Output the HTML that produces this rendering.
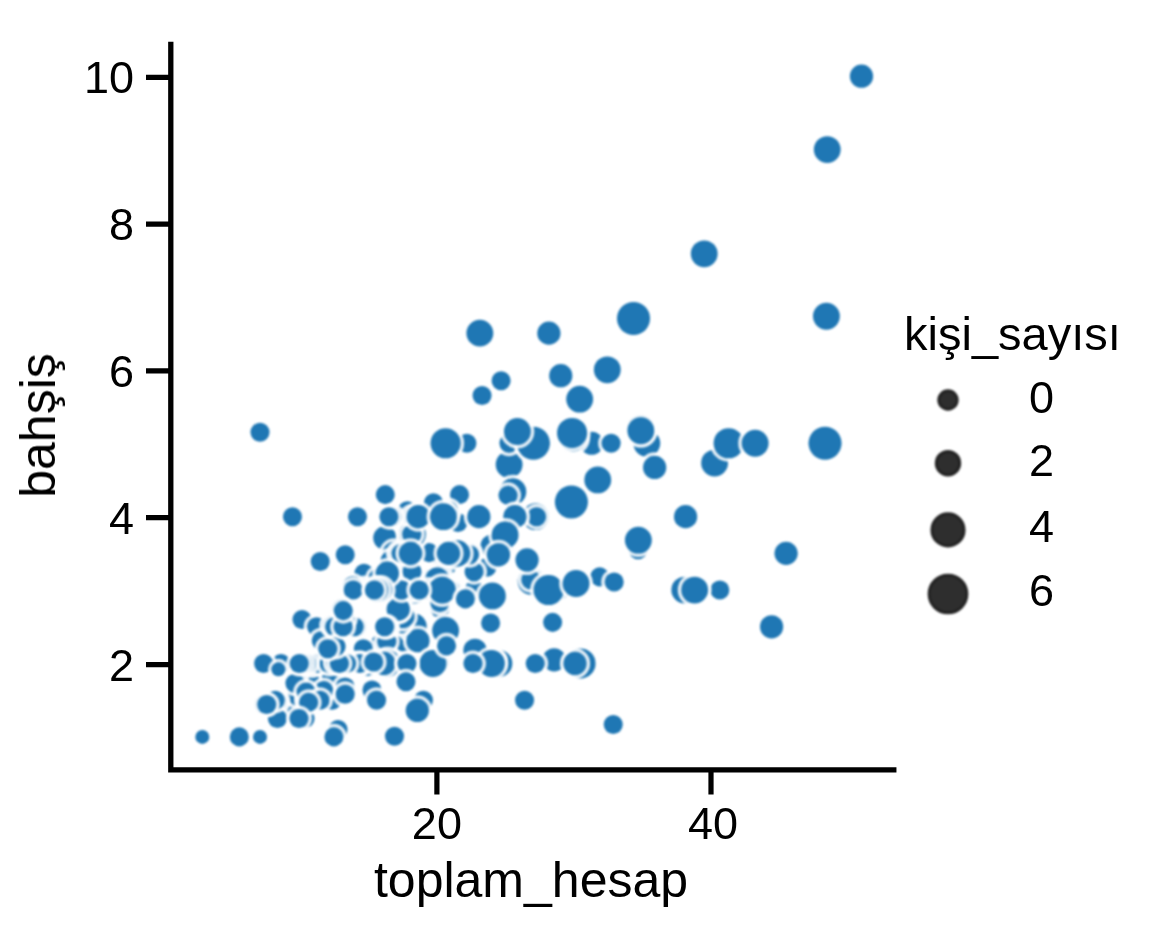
<!DOCTYPE html>
<html><head><meta charset="utf-8"><title>toplam_hesap / bahşiş scatter</title>
<style>html,body{margin:0;padding:0;background:#fff;}body{width:1152px;height:928px;overflow:hidden;font-family:"Liberation Sans",sans-serif;}svg{display:block;}</style>
</head><body>
<svg width="1152" height="928" viewBox="0 0 1152 928" role="img" aria-label="Scatter plot of bahşiş versus toplam_hesap, point size by kişi_sayısı">
<rect width="1152" height="928" fill="#ffffff"/>
<defs><filter id="bd" filterUnits="userSpaceOnUse" x="-20" y="-20" width="1192" height="968" color-interpolation-filters="sRGB"><feGaussianBlur stdDeviation="0.8"/></filter><filter id="bl" filterUnits="userSpaceOnUse" x="-20" y="-20" width="1192" height="968" color-interpolation-filters="sRGB"><feGaussianBlur stdDeviation="0.55"/></filter><filter id="bt" filterUnits="userSpaceOnUse" x="-20" y="-20" width="1192" height="968" color-interpolation-filters="sRGB"><feGaussianBlur stdDeviation="0.6"/></filter><filter id="bm" filterUnits="userSpaceOnUse" x="-20" y="-20" width="1192" height="968" color-interpolation-filters="sRGB"><feGaussianBlur stdDeviation="0.8"/></filter></defs>
<g id="all">
<g filter="url(#bd)">
<circle cx="394.51" cy="736.16" r="10.87" fill="none" stroke="#fff" stroke-opacity="0.88" stroke-width="4.30"/><circle cx="394.51" cy="736.16" r="9.52" fill="#1f77b4"/>
<circle cx="302.68" cy="688.44" r="12.96" fill="none" stroke="#fff" stroke-opacity="0.88" stroke-width="4.30"/><circle cx="302.68" cy="688.44" r="11.61" fill="#1f77b4"/>
<circle cx="450.02" cy="553.37" r="12.96" fill="none" stroke="#fff" stroke-opacity="0.88" stroke-width="4.30"/><circle cx="450.02" cy="553.37" r="11.61" fill="#1f77b4"/>
<circle cx="486.88" cy="567.31" r="10.87" fill="none" stroke="#fff" stroke-opacity="0.88" stroke-width="4.30"/><circle cx="486.88" cy="567.31" r="9.52" fill="#1f77b4"/>
<circle cx="499.45" cy="545.29" r="14.77" fill="none" stroke="#fff" stroke-opacity="0.88" stroke-width="4.30"/><circle cx="499.45" cy="545.29" r="13.42" fill="#1f77b4"/>
<circle cx="509.11" cy="464.54" r="14.77" fill="none" stroke="#fff" stroke-opacity="0.88" stroke-width="4.30"/><circle cx="509.11" cy="464.54" r="13.42" fill="#1f77b4"/>
<circle cx="281.01" cy="663.48" r="10.87" fill="none" stroke="#fff" stroke-opacity="0.88" stroke-width="4.30"/><circle cx="281.01" cy="663.48" r="9.52" fill="#1f77b4"/>
<circle cx="531.07" cy="581.26" r="14.77" fill="none" stroke="#fff" stroke-opacity="0.88" stroke-width="4.30"/><circle cx="531.07" cy="581.26" r="13.42" fill="#1f77b4"/>
<circle cx="367.58" cy="666.42" r="10.87" fill="none" stroke="#fff" stroke-opacity="0.88" stroke-width="4.30"/><circle cx="367.58" cy="666.42" r="9.52" fill="#1f77b4"/>
<circle cx="363.99" cy="573.19" r="10.87" fill="none" stroke="#fff" stroke-opacity="0.88" stroke-width="4.30"/><circle cx="363.99" cy="573.19" r="9.52" fill="#1f77b4"/>
<circle cx="301.72" cy="684.77" r="10.87" fill="none" stroke="#fff" stroke-opacity="0.88" stroke-width="4.30"/><circle cx="301.72" cy="684.77" r="9.52" fill="#1f77b4"/>
<circle cx="646.78" cy="443.25" r="14.77" fill="none" stroke="#fff" stroke-opacity="0.88" stroke-width="4.30"/><circle cx="646.78" cy="443.25" r="13.42" fill="#1f77b4"/>
<circle cx="372.83" cy="695.05" r="10.87" fill="none" stroke="#fff" stroke-opacity="0.88" stroke-width="4.30"/><circle cx="372.83" cy="695.05" r="9.52" fill="#1f77b4"/>
<circle cx="414.39" cy="590.07" r="14.77" fill="none" stroke="#fff" stroke-opacity="0.88" stroke-width="4.30"/><circle cx="414.39" cy="590.07" r="13.42" fill="#1f77b4"/>
<circle cx="364.68" cy="588.60" r="10.87" fill="none" stroke="#fff" stroke-opacity="0.88" stroke-width="4.30"/><circle cx="364.68" cy="588.60" r="9.52" fill="#1f77b4"/>
<circle cx="457.89" cy="522.53" r="10.87" fill="none" stroke="#fff" stroke-opacity="0.88" stroke-width="4.30"/><circle cx="457.89" cy="522.53" r="9.52" fill="#1f77b4"/>
<circle cx="302.55" cy="687.71" r="12.96" fill="none" stroke="#fff" stroke-opacity="0.88" stroke-width="4.30"/><circle cx="302.55" cy="687.71" r="11.61" fill="#1f77b4"/>
<circle cx="384.84" cy="537.95" r="12.96" fill="none" stroke="#fff" stroke-opacity="0.88" stroke-width="4.30"/><circle cx="384.84" cy="537.95" r="11.61" fill="#1f77b4"/>
<circle cx="394.23" cy="553.37" r="12.96" fill="none" stroke="#fff" stroke-opacity="0.88" stroke-width="4.30"/><circle cx="394.23" cy="553.37" r="11.61" fill="#1f77b4"/>
<circle cx="445.04" cy="564.38" r="12.96" fill="none" stroke="#fff" stroke-opacity="0.88" stroke-width="4.30"/><circle cx="445.04" cy="564.38" r="11.61" fill="#1f77b4"/>
<circle cx="407.35" cy="510.79" r="10.87" fill="none" stroke="#fff" stroke-opacity="0.88" stroke-width="4.30"/><circle cx="407.35" cy="510.79" r="9.52" fill="#1f77b4"/>
<circle cx="440.07" cy="608.42" r="10.87" fill="none" stroke="#fff" stroke-opacity="0.88" stroke-width="4.30"/><circle cx="440.07" cy="608.42" r="9.52" fill="#1f77b4"/>
<circle cx="377.66" cy="646.60" r="10.87" fill="none" stroke="#fff" stroke-opacity="0.88" stroke-width="4.30"/><circle cx="377.66" cy="646.60" r="9.52" fill="#1f77b4"/>
<circle cx="704.22" cy="253.85" r="14.77" fill="none" stroke="#fff" stroke-opacity="0.88" stroke-width="4.30"/><circle cx="704.22" cy="253.85" r="13.42" fill="#1f77b4"/>
<circle cx="433.58" cy="576.86" r="10.87" fill="none" stroke="#fff" stroke-opacity="0.88" stroke-width="4.30"/><circle cx="433.58" cy="576.86" r="9.52" fill="#1f77b4"/>
<circle cx="405.83" cy="638.52" r="14.77" fill="none" stroke="#fff" stroke-opacity="0.88" stroke-width="4.30"/><circle cx="405.83" cy="638.52" r="13.42" fill="#1f77b4"/>
<circle cx="344.52" cy="663.48" r="10.87" fill="none" stroke="#fff" stroke-opacity="0.88" stroke-width="4.30"/><circle cx="344.52" cy="663.48" r="9.52" fill="#1f77b4"/>
<circle cx="335.13" cy="663.48" r="10.87" fill="none" stroke="#fff" stroke-opacity="0.88" stroke-width="4.30"/><circle cx="335.13" cy="663.48" r="9.52" fill="#1f77b4"/>
<circle cx="459.54" cy="494.64" r="10.87" fill="none" stroke="#fff" stroke-opacity="0.88" stroke-width="4.30"/><circle cx="459.54" cy="494.64" r="9.52" fill="#1f77b4"/>
<circle cx="431.24" cy="590.07" r="10.87" fill="none" stroke="#fff" stroke-opacity="0.88" stroke-width="4.30"/><circle cx="431.24" cy="590.07" r="9.52" fill="#1f77b4"/>
<circle cx="291.78" cy="703.86" r="10.87" fill="none" stroke="#fff" stroke-opacity="0.88" stroke-width="4.30"/><circle cx="291.78" cy="703.86" r="9.52" fill="#1f77b4"/>
<circle cx="413.29" cy="626.77" r="14.77" fill="none" stroke="#fff" stroke-opacity="0.88" stroke-width="4.30"/><circle cx="413.29" cy="626.77" r="13.42" fill="#1f77b4"/>
<circle cx="367.86" cy="590.07" r="10.87" fill="none" stroke="#fff" stroke-opacity="0.88" stroke-width="4.30"/><circle cx="367.86" cy="590.07" r="9.52" fill="#1f77b4"/>
<circle cx="445.60" cy="630.45" r="14.77" fill="none" stroke="#fff" stroke-opacity="0.88" stroke-width="4.30"/><circle cx="445.60" cy="630.45" r="13.42" fill="#1f77b4"/>
<circle cx="405.42" cy="570.25" r="10.87" fill="none" stroke="#fff" stroke-opacity="0.88" stroke-width="4.30"/><circle cx="405.42" cy="570.25" r="9.52" fill="#1f77b4"/>
<circle cx="492.13" cy="546.02" r="12.96" fill="none" stroke="#fff" stroke-opacity="0.88" stroke-width="4.30"/><circle cx="492.13" cy="546.02" r="11.61" fill="#1f77b4"/>
<circle cx="385.12" cy="663.48" r="12.96" fill="none" stroke="#fff" stroke-opacity="0.88" stroke-width="4.30"/><circle cx="385.12" cy="663.48" r="11.61" fill="#1f77b4"/>
<circle cx="393.68" cy="584.93" r="12.96" fill="none" stroke="#fff" stroke-opacity="0.88" stroke-width="4.30"/><circle cx="393.68" cy="584.93" r="11.61" fill="#1f77b4"/>
<circle cx="417.98" cy="640.72" r="12.96" fill="none" stroke="#fff" stroke-opacity="0.88" stroke-width="4.30"/><circle cx="417.98" cy="640.72" r="11.61" fill="#1f77b4"/>
<circle cx="591.69" cy="443.25" r="12.96" fill="none" stroke="#fff" stroke-opacity="0.88" stroke-width="4.30"/><circle cx="591.69" cy="443.25" r="11.61" fill="#1f77b4"/>
<circle cx="381.39" cy="645.86" r="12.96" fill="none" stroke="#fff" stroke-opacity="0.88" stroke-width="4.30"/><circle cx="381.39" cy="645.86" r="11.61" fill="#1f77b4"/>
<circle cx="401.00" cy="623.84" r="10.87" fill="none" stroke="#fff" stroke-opacity="0.88" stroke-width="4.30"/><circle cx="401.00" cy="623.84" r="9.52" fill="#1f77b4"/>
<circle cx="352.39" cy="585.67" r="10.87" fill="none" stroke="#fff" stroke-opacity="0.88" stroke-width="4.30"/><circle cx="352.39" cy="585.67" r="9.52" fill="#1f77b4"/>
<circle cx="293.57" cy="713.40" r="10.87" fill="none" stroke="#fff" stroke-opacity="0.88" stroke-width="4.30"/><circle cx="293.57" cy="713.40" r="9.52" fill="#1f77b4"/>
<circle cx="579.67" cy="399.20" r="14.77" fill="none" stroke="#fff" stroke-opacity="0.88" stroke-width="4.30"/><circle cx="579.67" cy="399.20" r="13.42" fill="#1f77b4"/>
<circle cx="412.46" cy="590.07" r="10.87" fill="none" stroke="#fff" stroke-opacity="0.88" stroke-width="4.30"/><circle cx="412.46" cy="590.07" r="9.52" fill="#1f77b4"/>
<circle cx="466.86" cy="443.25" r="10.87" fill="none" stroke="#fff" stroke-opacity="0.88" stroke-width="4.30"/><circle cx="466.86" cy="443.25" r="9.52" fill="#1f77b4"/>
<circle cx="607.29" cy="369.84" r="14.77" fill="none" stroke="#fff" stroke-opacity="0.88" stroke-width="4.30"/><circle cx="607.29" cy="369.84" r="13.42" fill="#1f77b4"/>
<circle cx="554.13" cy="659.81" r="12.96" fill="none" stroke="#fff" stroke-opacity="0.88" stroke-width="4.30"/><circle cx="554.13" cy="659.81" r="11.61" fill="#1f77b4"/>
<circle cx="409.01" cy="590.07" r="10.87" fill="none" stroke="#fff" stroke-opacity="0.88" stroke-width="4.30"/><circle cx="409.01" cy="590.07" r="9.52" fill="#1f77b4"/>
<circle cx="333.06" cy="626.77" r="10.87" fill="none" stroke="#fff" stroke-opacity="0.88" stroke-width="4.30"/><circle cx="333.06" cy="626.77" r="9.52" fill="#1f77b4"/>
<circle cx="301.99" cy="619.43" r="10.87" fill="none" stroke="#fff" stroke-opacity="0.88" stroke-width="4.30"/><circle cx="301.99" cy="619.43" r="9.52" fill="#1f77b4"/>
<circle cx="640.57" cy="428.57" r="14.77" fill="none" stroke="#fff" stroke-opacity="0.88" stroke-width="4.30"/><circle cx="640.57" cy="428.57" r="13.42" fill="#1f77b4"/>
<circle cx="297.16" cy="695.78" r="10.87" fill="none" stroke="#fff" stroke-opacity="0.88" stroke-width="4.30"/><circle cx="297.16" cy="695.78" r="9.52" fill="#1f77b4"/>
<circle cx="512.84" cy="491.70" r="14.77" fill="none" stroke="#fff" stroke-opacity="0.88" stroke-width="4.30"/><circle cx="512.84" cy="491.70" r="13.42" fill="#1f77b4"/>
<circle cx="429.03" cy="552.63" r="10.87" fill="none" stroke="#fff" stroke-opacity="0.88" stroke-width="4.30"/><circle cx="429.03" cy="552.63" r="9.52" fill="#1f77b4"/>
<circle cx="684.75" cy="590.07" r="14.77" fill="none" stroke="#fff" stroke-opacity="0.88" stroke-width="4.30"/><circle cx="684.75" cy="590.07" r="13.42" fill="#1f77b4"/>
<circle cx="524.58" cy="700.19" r="10.87" fill="none" stroke="#fff" stroke-opacity="0.88" stroke-width="4.30"/><circle cx="524.58" cy="700.19" r="9.52" fill="#1f77b4"/>
<circle cx="315.11" cy="681.10" r="10.87" fill="none" stroke="#fff" stroke-opacity="0.88" stroke-width="4.30"/><circle cx="315.11" cy="681.10" r="9.52" fill="#1f77b4"/>
<circle cx="826.42" cy="316.25" r="14.77" fill="none" stroke="#fff" stroke-opacity="0.88" stroke-width="4.30"/><circle cx="826.42" cy="316.25" r="13.42" fill="#1f77b4"/>
<circle cx="440.07" cy="574.65" r="10.87" fill="none" stroke="#fff" stroke-opacity="0.88" stroke-width="4.30"/><circle cx="440.07" cy="574.65" r="9.52" fill="#1f77b4"/>
<circle cx="350.60" cy="663.48" r="10.87" fill="none" stroke="#fff" stroke-opacity="0.88" stroke-width="4.30"/><circle cx="350.60" cy="663.48" r="9.52" fill="#1f77b4"/>
<circle cx="312.07" cy="664.95" r="10.87" fill="none" stroke="#fff" stroke-opacity="0.88" stroke-width="4.30"/><circle cx="312.07" cy="664.95" r="9.52" fill="#1f77b4"/>
<circle cx="412.46" cy="534.28" r="14.77" fill="none" stroke="#fff" stroke-opacity="0.88" stroke-width="4.30"/><circle cx="412.46" cy="534.28" r="13.42" fill="#1f77b4"/>
<circle cx="402.79" cy="616.50" r="12.96" fill="none" stroke="#fff" stroke-opacity="0.88" stroke-width="4.30"/><circle cx="402.79" cy="616.50" r="11.61" fill="#1f77b4"/>
<circle cx="437.17" cy="579.06" r="12.96" fill="none" stroke="#fff" stroke-opacity="0.88" stroke-width="4.30"/><circle cx="437.17" cy="579.06" r="11.61" fill="#1f77b4"/>
<circle cx="387.05" cy="628.98" r="10.87" fill="none" stroke="#fff" stroke-opacity="0.88" stroke-width="4.30"/><circle cx="387.05" cy="628.98" r="9.52" fill="#1f77b4"/>
<circle cx="202.30" cy="736.89" r="8.35" fill="none" stroke="#fff" stroke-opacity="0.88" stroke-width="4.30"/><circle cx="202.30" cy="736.89" r="7.00" fill="#1f77b4"/>
<circle cx="439.25" cy="662.75" r="10.87" fill="none" stroke="#fff" stroke-opacity="0.88" stroke-width="4.30"/><circle cx="439.25" cy="662.75" r="9.52" fill="#1f77b4"/>
<circle cx="367.17" cy="656.87" r="10.87" fill="none" stroke="#fff" stroke-opacity="0.88" stroke-width="4.30"/><circle cx="367.17" cy="656.87" r="9.52" fill="#1f77b4"/>
<circle cx="325.88" cy="665.68" r="10.87" fill="none" stroke="#fff" stroke-opacity="0.88" stroke-width="4.30"/><circle cx="325.88" cy="665.68" r="9.52" fill="#1f77b4"/>
<circle cx="395.61" cy="590.07" r="12.96" fill="none" stroke="#fff" stroke-opacity="0.88" stroke-width="4.30"/><circle cx="395.61" cy="590.07" r="11.61" fill="#1f77b4"/>
<circle cx="530.79" cy="579.79" r="10.87" fill="none" stroke="#fff" stroke-opacity="0.88" stroke-width="4.30"/><circle cx="530.79" cy="579.79" r="9.52" fill="#1f77b4"/>
<circle cx="508.98" cy="443.25" r="10.87" fill="none" stroke="#fff" stroke-opacity="0.88" stroke-width="4.30"/><circle cx="508.98" cy="443.25" r="9.52" fill="#1f77b4"/>
<circle cx="363.30" cy="648.80" r="10.87" fill="none" stroke="#fff" stroke-opacity="0.88" stroke-width="4.30"/><circle cx="363.30" cy="648.80" r="9.52" fill="#1f77b4"/>
<circle cx="305.03" cy="718.54" r="10.87" fill="none" stroke="#fff" stroke-opacity="0.88" stroke-width="4.30"/><circle cx="305.03" cy="718.54" r="9.52" fill="#1f77b4"/>
<circle cx="407.35" cy="584.20" r="10.87" fill="none" stroke="#fff" stroke-opacity="0.88" stroke-width="4.30"/><circle cx="407.35" cy="584.20" r="9.52" fill="#1f77b4"/>
<circle cx="535.49" cy="516.66" r="14.77" fill="none" stroke="#fff" stroke-opacity="0.88" stroke-width="4.30"/><circle cx="535.49" cy="516.66" r="13.42" fill="#1f77b4"/>
<circle cx="474.18" cy="590.07" r="10.87" fill="none" stroke="#fff" stroke-opacity="0.88" stroke-width="4.30"/><circle cx="474.18" cy="590.07" r="9.52" fill="#1f77b4"/>
<circle cx="398.65" cy="611.36" r="10.87" fill="none" stroke="#fff" stroke-opacity="0.88" stroke-width="4.30"/><circle cx="398.65" cy="611.36" r="9.52" fill="#1f77b4"/>
<circle cx="428.34" cy="590.07" r="10.87" fill="none" stroke="#fff" stroke-opacity="0.88" stroke-width="4.30"/><circle cx="428.34" cy="590.07" r="9.52" fill="#1f77b4"/>
<circle cx="389.95" cy="560.71" r="10.87" fill="none" stroke="#fff" stroke-opacity="0.88" stroke-width="4.30"/><circle cx="389.95" cy="560.71" r="9.52" fill="#1f77b4"/>
<circle cx="298.96" cy="675.96" r="8.35" fill="none" stroke="#fff" stroke-opacity="0.88" stroke-width="4.30"/><circle cx="298.96" cy="675.96" r="7.00" fill="#1f77b4"/>
<circle cx="611.15" cy="443.25" r="10.87" fill="none" stroke="#fff" stroke-opacity="0.88" stroke-width="4.30"/><circle cx="611.15" cy="443.25" r="9.52" fill="#1f77b4"/>
<circle cx="380.56" cy="661.28" r="10.87" fill="none" stroke="#fff" stroke-opacity="0.88" stroke-width="4.30"/><circle cx="380.56" cy="661.28" r="9.52" fill="#1f77b4"/>
<circle cx="640.84" cy="430.77" r="14.77" fill="none" stroke="#fff" stroke-opacity="0.88" stroke-width="4.30"/><circle cx="640.84" cy="430.77" r="13.42" fill="#1f77b4"/>
<circle cx="339.83" cy="663.48" r="10.87" fill="none" stroke="#fff" stroke-opacity="0.88" stroke-width="4.30"/><circle cx="339.83" cy="663.48" r="9.52" fill="#1f77b4"/>
<circle cx="412.32" cy="516.66" r="10.87" fill="none" stroke="#fff" stroke-opacity="0.88" stroke-width="4.30"/><circle cx="412.32" cy="516.66" r="9.52" fill="#1f77b4"/>
<circle cx="501.11" cy="380.85" r="10.87" fill="none" stroke="#fff" stroke-opacity="0.88" stroke-width="4.30"/><circle cx="501.11" cy="380.85" r="9.52" fill="#1f77b4"/>
<circle cx="452.09" cy="590.07" r="10.87" fill="none" stroke="#fff" stroke-opacity="0.88" stroke-width="4.30"/><circle cx="452.09" cy="590.07" r="9.52" fill="#1f77b4"/>
<circle cx="559.93" cy="590.07" r="10.87" fill="none" stroke="#fff" stroke-opacity="0.88" stroke-width="4.30"/><circle cx="559.93" cy="590.07" r="9.52" fill="#1f77b4"/>
<circle cx="470.45" cy="553.37" r="10.87" fill="none" stroke="#fff" stroke-opacity="0.88" stroke-width="4.30"/><circle cx="470.45" cy="553.37" r="9.52" fill="#1f77b4"/>
<circle cx="239.31" cy="736.89" r="10.87" fill="none" stroke="#fff" stroke-opacity="0.88" stroke-width="4.30"/><circle cx="239.31" cy="736.89" r="9.52" fill="#1f77b4"/>
<circle cx="385.26" cy="494.64" r="10.87" fill="none" stroke="#fff" stroke-opacity="0.88" stroke-width="4.30"/><circle cx="385.26" cy="494.64" r="9.52" fill="#1f77b4"/>
<circle cx="474.04" cy="571.72" r="10.87" fill="none" stroke="#fff" stroke-opacity="0.88" stroke-width="4.30"/><circle cx="474.04" cy="571.72" r="9.52" fill="#1f77b4"/>
<circle cx="714.58" cy="463.07" r="14.77" fill="none" stroke="#fff" stroke-opacity="0.88" stroke-width="4.30"/><circle cx="714.58" cy="463.07" r="13.42" fill="#1f77b4"/>
<circle cx="536.59" cy="516.66" r="10.87" fill="none" stroke="#fff" stroke-opacity="0.88" stroke-width="4.30"/><circle cx="536.59" cy="516.66" r="9.52" fill="#1f77b4"/>
<circle cx="326.02" cy="700.19" r="10.87" fill="none" stroke="#fff" stroke-opacity="0.88" stroke-width="4.30"/><circle cx="326.02" cy="700.19" r="9.52" fill="#1f77b4"/>
<circle cx="450.02" cy="590.07" r="10.87" fill="none" stroke="#fff" stroke-opacity="0.88" stroke-width="4.30"/><circle cx="450.02" cy="590.07" r="9.52" fill="#1f77b4"/>
<circle cx="331.96" cy="700.19" r="10.87" fill="none" stroke="#fff" stroke-opacity="0.88" stroke-width="4.30"/><circle cx="331.96" cy="700.19" r="9.52" fill="#1f77b4"/>
<circle cx="316.63" cy="626.77" r="10.87" fill="none" stroke="#fff" stroke-opacity="0.88" stroke-width="4.30"/><circle cx="316.63" cy="626.77" r="9.52" fill="#1f77b4"/>
<circle cx="372.28" cy="590.07" r="10.87" fill="none" stroke="#fff" stroke-opacity="0.88" stroke-width="4.30"/><circle cx="372.28" cy="590.07" r="9.52" fill="#1f77b4"/>
<circle cx="771.60" cy="626.77" r="12.96" fill="none" stroke="#fff" stroke-opacity="0.88" stroke-width="4.30"/><circle cx="771.60" cy="626.77" r="11.61" fill="#1f77b4"/>
<circle cx="469.48" cy="554.83" r="10.87" fill="none" stroke="#fff" stroke-opacity="0.88" stroke-width="4.30"/><circle cx="469.48" cy="554.83" r="9.52" fill="#1f77b4"/>
<circle cx="448.77" cy="510.79" r="10.87" fill="none" stroke="#fff" stroke-opacity="0.88" stroke-width="4.30"/><circle cx="448.77" cy="510.79" r="9.52" fill="#1f77b4"/>
<circle cx="372.00" cy="689.91" r="10.87" fill="none" stroke="#fff" stroke-opacity="0.88" stroke-width="4.30"/><circle cx="372.00" cy="689.91" r="9.52" fill="#1f77b4"/>
<circle cx="442.84" cy="512.26" r="10.87" fill="none" stroke="#fff" stroke-opacity="0.88" stroke-width="4.30"/><circle cx="442.84" cy="512.26" r="9.52" fill="#1f77b4"/>
<circle cx="508.01" cy="495.37" r="10.87" fill="none" stroke="#fff" stroke-opacity="0.88" stroke-width="4.30"/><circle cx="508.01" cy="495.37" r="9.52" fill="#1f77b4"/>
<circle cx="411.77" cy="534.28" r="10.87" fill="none" stroke="#fff" stroke-opacity="0.88" stroke-width="4.30"/><circle cx="411.77" cy="534.28" r="9.52" fill="#1f77b4"/>
<circle cx="357.50" cy="516.66" r="10.87" fill="none" stroke="#fff" stroke-opacity="0.88" stroke-width="4.30"/><circle cx="357.50" cy="516.66" r="9.52" fill="#1f77b4"/>
<circle cx="353.22" cy="590.07" r="10.87" fill="none" stroke="#fff" stroke-opacity="0.88" stroke-width="4.30"/><circle cx="353.22" cy="590.07" r="9.52" fill="#1f77b4"/>
<circle cx="260.02" cy="736.89" r="8.35" fill="none" stroke="#fff" stroke-opacity="0.88" stroke-width="4.30"/><circle cx="260.02" cy="736.89" r="7.00" fill="#1f77b4"/>
<circle cx="685.58" cy="516.66" r="12.96" fill="none" stroke="#fff" stroke-opacity="0.88" stroke-width="4.30"/><circle cx="685.58" cy="516.66" r="11.61" fill="#1f77b4"/>
<circle cx="490.61" cy="623.10" r="10.87" fill="none" stroke="#fff" stroke-opacity="0.88" stroke-width="4.30"/><circle cx="490.61" cy="623.10" r="9.52" fill="#1f77b4"/>
<circle cx="514.91" cy="516.66" r="12.96" fill="none" stroke="#fff" stroke-opacity="0.88" stroke-width="4.30"/><circle cx="514.91" cy="516.66" r="11.61" fill="#1f77b4"/>
<circle cx="398.93" cy="553.37" r="10.87" fill="none" stroke="#fff" stroke-opacity="0.88" stroke-width="4.30"/><circle cx="398.93" cy="553.37" r="9.52" fill="#1f77b4"/>
<circle cx="573.18" cy="438.11" r="14.77" fill="none" stroke="#fff" stroke-opacity="0.88" stroke-width="4.30"/><circle cx="573.18" cy="438.11" r="13.42" fill="#1f77b4"/>
<circle cx="306.96" cy="700.19" r="10.87" fill="none" stroke="#fff" stroke-opacity="0.88" stroke-width="4.30"/><circle cx="306.96" cy="700.19" r="9.52" fill="#1f77b4"/>
<circle cx="331.54" cy="678.16" r="10.87" fill="none" stroke="#fff" stroke-opacity="0.88" stroke-width="4.30"/><circle cx="331.54" cy="678.16" r="9.52" fill="#1f77b4"/>
<circle cx="492.41" cy="595.94" r="14.77" fill="none" stroke="#fff" stroke-opacity="0.88" stroke-width="4.30"/><circle cx="492.41" cy="595.94" r="13.42" fill="#1f77b4"/>
<circle cx="321.32" cy="640.72" r="10.87" fill="none" stroke="#fff" stroke-opacity="0.88" stroke-width="4.30"/><circle cx="321.32" cy="640.72" r="9.52" fill="#1f77b4"/>
<circle cx="345.21" cy="686.97" r="10.87" fill="none" stroke="#fff" stroke-opacity="0.88" stroke-width="4.30"/><circle cx="345.21" cy="686.97" r="9.52" fill="#1f77b4"/>
<circle cx="356.81" cy="626.77" r="10.87" fill="none" stroke="#fff" stroke-opacity="0.88" stroke-width="4.30"/><circle cx="356.81" cy="626.77" r="9.52" fill="#1f77b4"/>
<circle cx="380.15" cy="663.48" r="10.87" fill="none" stroke="#fff" stroke-opacity="0.88" stroke-width="4.30"/><circle cx="380.15" cy="663.48" r="9.52" fill="#1f77b4"/>
<circle cx="332.23" cy="625.31" r="10.87" fill="none" stroke="#fff" stroke-opacity="0.88" stroke-width="4.30"/><circle cx="332.23" cy="625.31" r="9.52" fill="#1f77b4"/>
<circle cx="571.39" cy="501.98" r="17.89" fill="none" stroke="#fff" stroke-opacity="0.88" stroke-width="4.30"/><circle cx="571.39" cy="501.98" r="16.54" fill="#1f77b4"/>
<circle cx="277.55" cy="701.65" r="10.87" fill="none" stroke="#fff" stroke-opacity="0.88" stroke-width="4.30"/><circle cx="277.55" cy="701.65" r="9.52" fill="#1f77b4"/>
<circle cx="360.40" cy="663.48" r="10.87" fill="none" stroke="#fff" stroke-opacity="0.88" stroke-width="4.30"/><circle cx="360.40" cy="663.48" r="9.52" fill="#1f77b4"/>
<circle cx="317.04" cy="663.48" r="10.87" fill="none" stroke="#fff" stroke-opacity="0.88" stroke-width="4.30"/><circle cx="317.04" cy="663.48" r="9.52" fill="#1f77b4"/>
<circle cx="475.01" cy="650.27" r="12.96" fill="none" stroke="#fff" stroke-opacity="0.88" stroke-width="4.30"/><circle cx="475.01" cy="650.27" r="11.61" fill="#1f77b4"/>
<circle cx="423.37" cy="700.19" r="10.87" fill="none" stroke="#fff" stroke-opacity="0.88" stroke-width="4.30"/><circle cx="423.37" cy="700.19" r="9.52" fill="#1f77b4"/>
<circle cx="439.80" cy="602.55" r="10.87" fill="none" stroke="#fff" stroke-opacity="0.88" stroke-width="4.30"/><circle cx="439.80" cy="602.55" r="9.52" fill="#1f77b4"/>
<circle cx="314.14" cy="700.19" r="10.87" fill="none" stroke="#fff" stroke-opacity="0.88" stroke-width="4.30"/><circle cx="314.14" cy="700.19" r="9.52" fill="#1f77b4"/>
<circle cx="329.20" cy="663.48" r="10.87" fill="none" stroke="#fff" stroke-opacity="0.88" stroke-width="4.30"/><circle cx="329.20" cy="663.48" r="9.52" fill="#1f77b4"/>
<circle cx="412.04" cy="571.72" r="10.87" fill="none" stroke="#fff" stroke-opacity="0.88" stroke-width="4.30"/><circle cx="412.04" cy="571.72" r="9.52" fill="#1f77b4"/>
<circle cx="277.42" cy="718.54" r="10.87" fill="none" stroke="#fff" stroke-opacity="0.88" stroke-width="4.30"/><circle cx="277.42" cy="718.54" r="9.52" fill="#1f77b4"/>
<circle cx="302.55" cy="663.48" r="10.87" fill="none" stroke="#fff" stroke-opacity="0.88" stroke-width="4.30"/><circle cx="302.55" cy="663.48" r="9.52" fill="#1f77b4"/>
<circle cx="355.29" cy="663.48" r="10.87" fill="none" stroke="#fff" stroke-opacity="0.88" stroke-width="4.30"/><circle cx="355.29" cy="663.48" r="9.52" fill="#1f77b4"/>
<circle cx="380.84" cy="663.48" r="10.87" fill="none" stroke="#fff" stroke-opacity="0.88" stroke-width="4.30"/><circle cx="380.84" cy="663.48" r="9.52" fill="#1f77b4"/>
<circle cx="341.62" cy="608.42" r="10.87" fill="none" stroke="#fff" stroke-opacity="0.88" stroke-width="4.30"/><circle cx="341.62" cy="608.42" r="9.52" fill="#1f77b4"/>
<circle cx="401.14" cy="553.37" r="10.87" fill="none" stroke="#fff" stroke-opacity="0.88" stroke-width="4.30"/><circle cx="401.14" cy="553.37" r="9.52" fill="#1f77b4"/>
<circle cx="633.52" cy="318.45" r="17.89" fill="none" stroke="#fff" stroke-opacity="0.88" stroke-width="4.30"/><circle cx="633.52" cy="318.45" r="16.54" fill="#1f77b4"/>
<circle cx="728.66" cy="443.25" r="16.40" fill="none" stroke="#fff" stroke-opacity="0.88" stroke-width="4.30"/><circle cx="728.66" cy="443.25" r="15.05" fill="#1f77b4"/>
<circle cx="533.42" cy="443.25" r="17.89" fill="none" stroke="#fff" stroke-opacity="0.88" stroke-width="4.30"/><circle cx="533.42" cy="443.25" r="16.54" fill="#1f77b4"/>
<circle cx="386.77" cy="641.46" r="10.87" fill="none" stroke="#fff" stroke-opacity="0.88" stroke-width="4.30"/><circle cx="386.77" cy="641.46" r="9.52" fill="#1f77b4"/>
<circle cx="275.21" cy="700.19" r="10.87" fill="none" stroke="#fff" stroke-opacity="0.88" stroke-width="4.30"/><circle cx="275.21" cy="700.19" r="9.52" fill="#1f77b4"/>
<circle cx="417.29" cy="710.46" r="12.96" fill="none" stroke="#fff" stroke-opacity="0.88" stroke-width="4.30"/><circle cx="417.29" cy="710.46" r="11.61" fill="#1f77b4"/>
<circle cx="323.81" cy="690.64" r="10.87" fill="none" stroke="#fff" stroke-opacity="0.88" stroke-width="4.30"/><circle cx="323.81" cy="690.64" r="9.52" fill="#1f77b4"/>
<circle cx="294.95" cy="683.30" r="10.87" fill="none" stroke="#fff" stroke-opacity="0.88" stroke-width="4.30"/><circle cx="294.95" cy="683.30" r="9.52" fill="#1f77b4"/>
<circle cx="263.61" cy="663.48" r="10.87" fill="none" stroke="#fff" stroke-opacity="0.88" stroke-width="4.30"/><circle cx="263.61" cy="663.48" r="9.52" fill="#1f77b4"/>
<circle cx="354.19" cy="626.77" r="10.87" fill="none" stroke="#fff" stroke-opacity="0.88" stroke-width="4.30"/><circle cx="354.19" cy="626.77" r="9.52" fill="#1f77b4"/>
<circle cx="341.21" cy="663.48" r="10.87" fill="none" stroke="#fff" stroke-opacity="0.88" stroke-width="4.30"/><circle cx="341.21" cy="663.48" r="9.52" fill="#1f77b4"/>
<circle cx="398.24" cy="609.16" r="12.96" fill="none" stroke="#fff" stroke-opacity="0.88" stroke-width="4.30"/><circle cx="398.24" cy="609.16" r="11.61" fill="#1f77b4"/>
<circle cx="498.90" cy="663.48" r="14.77" fill="none" stroke="#fff" stroke-opacity="0.88" stroke-width="4.30"/><circle cx="498.90" cy="663.48" r="13.42" fill="#1f77b4"/>
<circle cx="432.89" cy="663.48" r="14.77" fill="none" stroke="#fff" stroke-opacity="0.88" stroke-width="4.30"/><circle cx="432.89" cy="663.48" r="13.42" fill="#1f77b4"/>
<circle cx="572.08" cy="432.97" r="16.40" fill="none" stroke="#fff" stroke-opacity="0.88" stroke-width="4.30"/><circle cx="572.08" cy="432.97" r="15.05" fill="#1f77b4"/>
<circle cx="825.04" cy="443.25" r="17.89" fill="none" stroke="#fff" stroke-opacity="0.88" stroke-width="4.30"/><circle cx="825.04" cy="443.25" r="16.54" fill="#1f77b4"/>
<circle cx="505.11" cy="535.01" r="14.77" fill="none" stroke="#fff" stroke-opacity="0.88" stroke-width="4.30"/><circle cx="505.11" cy="535.01" r="13.42" fill="#1f77b4"/>
<circle cx="344.80" cy="618.70" r="10.87" fill="none" stroke="#fff" stroke-opacity="0.88" stroke-width="4.30"/><circle cx="344.80" cy="618.70" r="9.52" fill="#1f77b4"/>
<circle cx="387.60" cy="663.48" r="14.77" fill="none" stroke="#fff" stroke-opacity="0.88" stroke-width="4.30"/><circle cx="387.60" cy="663.48" r="13.42" fill="#1f77b4"/>
<circle cx="456.78" cy="553.37" r="14.77" fill="none" stroke="#fff" stroke-opacity="0.88" stroke-width="4.30"/><circle cx="456.78" cy="553.37" r="13.42" fill="#1f77b4"/>
<circle cx="334.72" cy="626.77" r="10.87" fill="none" stroke="#fff" stroke-opacity="0.88" stroke-width="4.30"/><circle cx="334.72" cy="626.77" r="9.52" fill="#1f77b4"/>
<circle cx="383.74" cy="663.48" r="12.96" fill="none" stroke="#fff" stroke-opacity="0.88" stroke-width="4.30"/><circle cx="383.74" cy="663.48" r="11.61" fill="#1f77b4"/>
<circle cx="350.60" cy="663.48" r="10.87" fill="none" stroke="#fff" stroke-opacity="0.88" stroke-width="4.30"/><circle cx="350.60" cy="663.48" r="9.52" fill="#1f77b4"/>
<circle cx="401.69" cy="590.07" r="10.87" fill="none" stroke="#fff" stroke-opacity="0.88" stroke-width="4.30"/><circle cx="401.69" cy="590.07" r="9.52" fill="#1f77b4"/>
<circle cx="498.48" cy="554.83" r="12.96" fill="none" stroke="#fff" stroke-opacity="0.88" stroke-width="4.30"/><circle cx="498.48" cy="554.83" r="11.61" fill="#1f77b4"/>
<circle cx="446.56" cy="645.86" r="10.87" fill="none" stroke="#fff" stroke-opacity="0.88" stroke-width="4.30"/><circle cx="446.56" cy="645.86" r="9.52" fill="#1f77b4"/>
<circle cx="597.76" cy="479.95" r="14.77" fill="none" stroke="#fff" stroke-opacity="0.88" stroke-width="4.30"/><circle cx="597.76" cy="479.95" r="13.42" fill="#1f77b4"/>
<circle cx="306.14" cy="692.11" r="10.87" fill="none" stroke="#fff" stroke-opacity="0.88" stroke-width="4.30"/><circle cx="306.14" cy="692.11" r="9.52" fill="#1f77b4"/>
<circle cx="306.69" cy="663.48" r="10.87" fill="none" stroke="#fff" stroke-opacity="0.88" stroke-width="4.30"/><circle cx="306.69" cy="663.48" r="9.52" fill="#1f77b4"/>
<circle cx="861.49" cy="76.20" r="12.96" fill="none" stroke="#fff" stroke-opacity="0.88" stroke-width="4.30"/><circle cx="861.49" cy="76.20" r="11.61" fill="#1f77b4"/>
<circle cx="378.21" cy="578.32" r="10.87" fill="none" stroke="#fff" stroke-opacity="0.88" stroke-width="4.30"/><circle cx="378.21" cy="578.32" r="9.52" fill="#1f77b4"/>
<circle cx="260.02" cy="432.24" r="10.87" fill="none" stroke="#fff" stroke-opacity="0.88" stroke-width="4.30"/><circle cx="260.02" cy="432.24" r="9.52" fill="#1f77b4"/>
<circle cx="599.69" cy="576.86" r="10.87" fill="none" stroke="#fff" stroke-opacity="0.88" stroke-width="4.30"/><circle cx="599.69" cy="576.86" r="9.52" fill="#1f77b4"/>
<circle cx="392.16" cy="516.66" r="10.87" fill="none" stroke="#fff" stroke-opacity="0.88" stroke-width="4.30"/><circle cx="392.16" cy="516.66" r="9.52" fill="#1f77b4"/>
<circle cx="614.19" cy="581.99" r="10.87" fill="none" stroke="#fff" stroke-opacity="0.88" stroke-width="4.30"/><circle cx="614.19" cy="581.99" r="9.52" fill="#1f77b4"/>
<circle cx="406.93" cy="663.48" r="10.87" fill="none" stroke="#fff" stroke-opacity="0.88" stroke-width="4.30"/><circle cx="406.93" cy="663.48" r="9.52" fill="#1f77b4"/>
<circle cx="359.85" cy="663.48" r="10.87" fill="none" stroke="#fff" stroke-opacity="0.88" stroke-width="4.30"/><circle cx="359.85" cy="663.48" r="9.52" fill="#1f77b4"/>
<circle cx="292.47" cy="516.66" r="10.87" fill="none" stroke="#fff" stroke-opacity="0.88" stroke-width="4.30"/><circle cx="292.47" cy="516.66" r="9.52" fill="#1f77b4"/>
<circle cx="638.08" cy="549.69" r="10.87" fill="none" stroke="#fff" stroke-opacity="0.88" stroke-width="4.30"/><circle cx="638.08" cy="549.69" r="9.52" fill="#1f77b4"/>
<circle cx="638.36" cy="540.15" r="14.77" fill="none" stroke="#fff" stroke-opacity="0.88" stroke-width="4.30"/><circle cx="638.36" cy="540.15" r="13.42" fill="#1f77b4"/>
<circle cx="482.05" cy="395.53" r="10.87" fill="none" stroke="#fff" stroke-opacity="0.88" stroke-width="4.30"/><circle cx="482.05" cy="395.53" r="9.52" fill="#1f77b4"/>
<circle cx="786.10" cy="553.37" r="12.96" fill="none" stroke="#fff" stroke-opacity="0.88" stroke-width="4.30"/><circle cx="786.10" cy="553.37" r="11.61" fill="#1f77b4"/>
<circle cx="479.84" cy="333.13" r="14.77" fill="none" stroke="#fff" stroke-opacity="0.88" stroke-width="4.30"/><circle cx="479.84" cy="333.13" r="13.42" fill="#1f77b4"/>
<circle cx="719.82" cy="590.07" r="10.87" fill="none" stroke="#fff" stroke-opacity="0.88" stroke-width="4.30"/><circle cx="719.82" cy="590.07" r="9.52" fill="#1f77b4"/>
<circle cx="445.60" cy="443.25" r="16.40" fill="none" stroke="#fff" stroke-opacity="0.88" stroke-width="4.30"/><circle cx="445.60" cy="443.25" r="15.05" fill="#1f77b4"/>
<circle cx="448.50" cy="553.37" r="12.96" fill="none" stroke="#fff" stroke-opacity="0.88" stroke-width="4.30"/><circle cx="448.50" cy="553.37" r="11.61" fill="#1f77b4"/>
<circle cx="580.50" cy="663.48" r="16.40" fill="none" stroke="#fff" stroke-opacity="0.88" stroke-width="4.30"/><circle cx="580.50" cy="663.48" r="15.05" fill="#1f77b4"/>
<circle cx="410.52" cy="553.37" r="12.96" fill="none" stroke="#fff" stroke-opacity="0.88" stroke-width="4.30"/><circle cx="410.52" cy="553.37" r="11.61" fill="#1f77b4"/>
<circle cx="478.87" cy="516.66" r="12.96" fill="none" stroke="#fff" stroke-opacity="0.88" stroke-width="4.30"/><circle cx="478.87" cy="516.66" r="11.61" fill="#1f77b4"/>
<circle cx="376.56" cy="700.19" r="10.87" fill="none" stroke="#fff" stroke-opacity="0.88" stroke-width="4.30"/><circle cx="376.56" cy="700.19" r="9.52" fill="#1f77b4"/>
<circle cx="433.45" cy="502.71" r="10.87" fill="none" stroke="#fff" stroke-opacity="0.88" stroke-width="4.30"/><circle cx="433.45" cy="502.71" r="9.52" fill="#1f77b4"/>
<circle cx="552.61" cy="622.37" r="10.87" fill="none" stroke="#fff" stroke-opacity="0.88" stroke-width="4.30"/><circle cx="552.61" cy="622.37" r="9.52" fill="#1f77b4"/>
<circle cx="373.66" cy="662.01" r="10.87" fill="none" stroke="#fff" stroke-opacity="0.88" stroke-width="4.30"/><circle cx="373.66" cy="662.01" r="9.52" fill="#1f77b4"/>
<circle cx="388.85" cy="516.66" r="10.87" fill="none" stroke="#fff" stroke-opacity="0.88" stroke-width="4.30"/><circle cx="388.85" cy="516.66" r="9.52" fill="#1f77b4"/>
<circle cx="264.30" cy="704.59" r="10.87" fill="none" stroke="#fff" stroke-opacity="0.88" stroke-width="4.30"/><circle cx="264.30" cy="704.59" r="9.52" fill="#1f77b4"/>
<circle cx="302.68" cy="663.48" r="10.87" fill="none" stroke="#fff" stroke-opacity="0.88" stroke-width="4.30"/><circle cx="302.68" cy="663.48" r="9.52" fill="#1f77b4"/>
<circle cx="755.17" cy="443.25" r="14.77" fill="none" stroke="#fff" stroke-opacity="0.88" stroke-width="4.30"/><circle cx="755.17" cy="443.25" r="13.42" fill="#1f77b4"/>
<circle cx="339.41" cy="663.48" r="10.87" fill="none" stroke="#fff" stroke-opacity="0.88" stroke-width="4.30"/><circle cx="339.41" cy="663.48" r="9.52" fill="#1f77b4"/>
<circle cx="346.46" cy="663.48" r="10.87" fill="none" stroke="#fff" stroke-opacity="0.88" stroke-width="4.30"/><circle cx="346.46" cy="663.48" r="9.52" fill="#1f77b4"/>
<circle cx="418.26" cy="516.66" r="12.96" fill="none" stroke="#fff" stroke-opacity="0.88" stroke-width="4.30"/><circle cx="418.26" cy="516.66" r="11.61" fill="#1f77b4"/>
<circle cx="335.82" cy="662.75" r="10.87" fill="none" stroke="#fff" stroke-opacity="0.88" stroke-width="4.30"/><circle cx="335.82" cy="662.75" r="9.52" fill="#1f77b4"/>
<circle cx="339.41" cy="663.48" r="10.87" fill="none" stroke="#fff" stroke-opacity="0.88" stroke-width="4.30"/><circle cx="339.41" cy="663.48" r="9.52" fill="#1f77b4"/>
<circle cx="386.36" cy="626.77" r="10.87" fill="none" stroke="#fff" stroke-opacity="0.88" stroke-width="4.30"/><circle cx="386.36" cy="626.77" r="9.52" fill="#1f77b4"/>
<circle cx="443.39" cy="516.66" r="14.77" fill="none" stroke="#fff" stroke-opacity="0.88" stroke-width="4.30"/><circle cx="443.39" cy="516.66" r="13.42" fill="#1f77b4"/>
<circle cx="387.33" cy="573.19" r="12.96" fill="none" stroke="#fff" stroke-opacity="0.88" stroke-width="4.30"/><circle cx="387.33" cy="573.19" r="11.61" fill="#1f77b4"/>
<circle cx="527.06" cy="559.97" r="12.96" fill="none" stroke="#fff" stroke-opacity="0.88" stroke-width="4.30"/><circle cx="527.06" cy="559.97" r="11.61" fill="#1f77b4"/>
<circle cx="694.69" cy="590.07" r="14.77" fill="none" stroke="#fff" stroke-opacity="0.88" stroke-width="4.30"/><circle cx="694.69" cy="590.07" r="13.42" fill="#1f77b4"/>
<circle cx="495.03" cy="661.28" r="10.87" fill="none" stroke="#fff" stroke-opacity="0.88" stroke-width="4.30"/><circle cx="495.03" cy="661.28" r="9.52" fill="#1f77b4"/>
<circle cx="336.10" cy="646.60" r="10.87" fill="none" stroke="#fff" stroke-opacity="0.88" stroke-width="4.30"/><circle cx="336.10" cy="646.60" r="9.52" fill="#1f77b4"/>
<circle cx="574.98" cy="663.48" r="12.96" fill="none" stroke="#fff" stroke-opacity="0.88" stroke-width="4.30"/><circle cx="574.98" cy="663.48" r="11.61" fill="#1f77b4"/>
<circle cx="517.40" cy="431.50" r="14.77" fill="none" stroke="#fff" stroke-opacity="0.88" stroke-width="4.30"/><circle cx="517.40" cy="431.50" r="13.42" fill="#1f77b4"/>
<circle cx="827.25" cy="149.61" r="14.77" fill="none" stroke="#fff" stroke-opacity="0.88" stroke-width="4.30"/><circle cx="827.25" cy="149.61" r="13.42" fill="#1f77b4"/>
<circle cx="343.14" cy="626.77" r="10.87" fill="none" stroke="#fff" stroke-opacity="0.88" stroke-width="4.30"/><circle cx="343.14" cy="626.77" r="9.52" fill="#1f77b4"/>
<circle cx="548.88" cy="333.13" r="12.96" fill="none" stroke="#fff" stroke-opacity="0.88" stroke-width="4.30"/><circle cx="548.88" cy="333.13" r="11.61" fill="#1f77b4"/>
<circle cx="338.03" cy="729.55" r="10.87" fill="none" stroke="#fff" stroke-opacity="0.88" stroke-width="4.30"/><circle cx="338.03" cy="729.55" r="9.52" fill="#1f77b4"/>
<circle cx="548.60" cy="590.07" r="16.40" fill="none" stroke="#fff" stroke-opacity="0.88" stroke-width="4.30"/><circle cx="548.60" cy="590.07" r="15.05" fill="#1f77b4"/>
<circle cx="319.94" cy="700.19" r="10.87" fill="none" stroke="#fff" stroke-opacity="0.88" stroke-width="4.30"/><circle cx="319.94" cy="700.19" r="9.52" fill="#1f77b4"/>
<circle cx="266.78" cy="704.59" r="10.87" fill="none" stroke="#fff" stroke-opacity="0.88" stroke-width="4.30"/><circle cx="266.78" cy="704.59" r="9.52" fill="#1f77b4"/>
<circle cx="576.08" cy="583.46" r="14.77" fill="none" stroke="#fff" stroke-opacity="0.88" stroke-width="4.30"/><circle cx="576.08" cy="583.46" r="13.42" fill="#1f77b4"/>
<circle cx="327.81" cy="648.80" r="10.87" fill="none" stroke="#fff" stroke-opacity="0.88" stroke-width="4.30"/><circle cx="327.81" cy="648.80" r="9.52" fill="#1f77b4"/>
<circle cx="345.21" cy="554.83" r="10.87" fill="none" stroke="#fff" stroke-opacity="0.88" stroke-width="4.30"/><circle cx="345.21" cy="554.83" r="9.52" fill="#1f77b4"/>
<circle cx="278.38" cy="669.35" r="8.35" fill="none" stroke="#fff" stroke-opacity="0.88" stroke-width="4.30"/><circle cx="278.38" cy="669.35" r="7.00" fill="#1f77b4"/>
<circle cx="380.56" cy="590.07" r="12.96" fill="none" stroke="#fff" stroke-opacity="0.88" stroke-width="4.30"/><circle cx="380.56" cy="590.07" r="11.61" fill="#1f77b4"/>
<circle cx="345.21" cy="694.31" r="10.87" fill="none" stroke="#fff" stroke-opacity="0.88" stroke-width="4.30"/><circle cx="345.21" cy="694.31" r="9.52" fill="#1f77b4"/>
<circle cx="384.57" cy="626.77" r="10.87" fill="none" stroke="#fff" stroke-opacity="0.88" stroke-width="4.30"/><circle cx="384.57" cy="626.77" r="9.52" fill="#1f77b4"/>
<circle cx="299.23" cy="663.48" r="10.87" fill="none" stroke="#fff" stroke-opacity="0.88" stroke-width="4.30"/><circle cx="299.23" cy="663.48" r="9.52" fill="#1f77b4"/>
<circle cx="442.28" cy="590.07" r="14.77" fill="none" stroke="#fff" stroke-opacity="0.88" stroke-width="4.30"/><circle cx="442.28" cy="590.07" r="13.42" fill="#1f77b4"/>
<circle cx="343.28" cy="610.62" r="10.87" fill="none" stroke="#fff" stroke-opacity="0.88" stroke-width="4.30"/><circle cx="343.28" cy="610.62" r="9.52" fill="#1f77b4"/>
<circle cx="465.34" cy="598.88" r="10.87" fill="none" stroke="#fff" stroke-opacity="0.88" stroke-width="4.30"/><circle cx="465.34" cy="598.88" r="9.52" fill="#1f77b4"/>
<circle cx="491.44" cy="663.48" r="14.77" fill="none" stroke="#fff" stroke-opacity="0.88" stroke-width="4.30"/><circle cx="491.44" cy="663.48" r="13.42" fill="#1f77b4"/>
<circle cx="376.56" cy="590.07" r="12.96" fill="none" stroke="#fff" stroke-opacity="0.88" stroke-width="4.30"/><circle cx="376.56" cy="590.07" r="11.61" fill="#1f77b4"/>
<circle cx="320.22" cy="561.44" r="10.87" fill="none" stroke="#fff" stroke-opacity="0.88" stroke-width="4.30"/><circle cx="320.22" cy="561.44" r="9.52" fill="#1f77b4"/>
<circle cx="308.62" cy="702.39" r="10.87" fill="none" stroke="#fff" stroke-opacity="0.88" stroke-width="4.30"/><circle cx="308.62" cy="702.39" r="9.52" fill="#1f77b4"/>
<circle cx="374.35" cy="590.07" r="10.87" fill="none" stroke="#fff" stroke-opacity="0.88" stroke-width="4.30"/><circle cx="374.35" cy="590.07" r="9.52" fill="#1f77b4"/>
<circle cx="298.96" cy="718.54" r="10.87" fill="none" stroke="#fff" stroke-opacity="0.88" stroke-width="4.30"/><circle cx="298.96" cy="718.54" r="9.52" fill="#1f77b4"/>
<circle cx="333.89" cy="736.89" r="10.87" fill="none" stroke="#fff" stroke-opacity="0.88" stroke-width="4.30"/><circle cx="333.89" cy="736.89" r="9.52" fill="#1f77b4"/>
<circle cx="613.23" cy="724.41" r="10.87" fill="none" stroke="#fff" stroke-opacity="0.88" stroke-width="4.30"/><circle cx="613.23" cy="724.41" r="9.52" fill="#1f77b4"/>
<circle cx="654.65" cy="467.48" r="12.96" fill="none" stroke="#fff" stroke-opacity="0.88" stroke-width="4.30"/><circle cx="654.65" cy="467.48" r="11.61" fill="#1f77b4"/>
<circle cx="560.76" cy="375.71" r="12.96" fill="none" stroke="#fff" stroke-opacity="0.88" stroke-width="4.30"/><circle cx="560.76" cy="375.71" r="11.61" fill="#1f77b4"/>
<circle cx="535.21" cy="663.48" r="10.87" fill="none" stroke="#fff" stroke-opacity="0.88" stroke-width="4.30"/><circle cx="535.21" cy="663.48" r="9.52" fill="#1f77b4"/>
<circle cx="472.94" cy="663.48" r="10.87" fill="none" stroke="#fff" stroke-opacity="0.88" stroke-width="4.30"/><circle cx="472.94" cy="663.48" r="9.52" fill="#1f77b4"/>
<circle cx="405.97" cy="681.83" r="10.87" fill="none" stroke="#fff" stroke-opacity="0.88" stroke-width="4.30"/><circle cx="405.97" cy="681.83" r="9.52" fill="#1f77b4"/>
<circle cx="419.22" cy="590.07" r="10.87" fill="none" stroke="#fff" stroke-opacity="0.88" stroke-width="4.30"/><circle cx="419.22" cy="590.07" r="9.52" fill="#1f77b4"/>
</g>
<g filter="url(#bl)">
<path d="M170.8 44.3V769.8H893.8" fill="none" stroke="#000" stroke-width="5.3" stroke-linecap="square" stroke-linejoin="miter"/>
<path d="M170.8 77.3H146.0M170.8 224.2H146.0M170.8 370.8H146.0M170.8 517.7H146.0M170.8 664.7H146.0M436.9 769.8V794.5999999999999M711.0 769.8V794.5999999999999" fill="none" stroke="#000" stroke-width="5.2"/>
</g>
<g filter="url(#bm)">
<circle cx="948" cy="400.0" r="9.20" fill="#2e2e2e" stroke="#232323" stroke-width="3"/>
<circle cx="948" cy="463.2" r="11.70" fill="#2e2e2e" stroke="#232323" stroke-width="3"/>
<circle cx="948" cy="529.9" r="16.05" fill="#2e2e2e" stroke="#232323" stroke-width="3"/>
<circle cx="948" cy="594.0" r="18.85" fill="#2e2e2e" stroke="#232323" stroke-width="3"/>
</g>
<g filter="url(#bt)" font-family="'Liberation Sans', sans-serif" fill="#000" stroke="none">
<text x="134" y="93.4" font-size="45" text-anchor="end">10</text>
<text x="134" y="240.3" font-size="45" text-anchor="end">8</text>
<text x="134" y="386.9" font-size="45" text-anchor="end">6</text>
<text x="134" y="533.8" font-size="45" text-anchor="end">4</text>
<text x="134" y="681.1" font-size="45" text-anchor="end">2</text>
<text x="436.9" y="838.6" font-size="45" text-anchor="middle">20</text>
<text x="713" y="838.6" font-size="45" text-anchor="middle">40</text>
<text x="531" y="897.3" font-size="50" text-anchor="middle">toplam_hesap</text>
<text transform="translate(55 425.5) rotate(-90)" font-size="50" text-anchor="middle">bahşiş</text>
<text x="904" y="349.9" font-size="47">kişi_sayısı</text>
<text x="1029" y="412.5" font-size="45">0</text>
<text x="1029" y="476.1" font-size="45">2</text>
<text x="1029" y="542.3" font-size="45">4</text>
<text x="1029" y="606" font-size="45">6</text>
</g>
</g></svg>
</body></html>
